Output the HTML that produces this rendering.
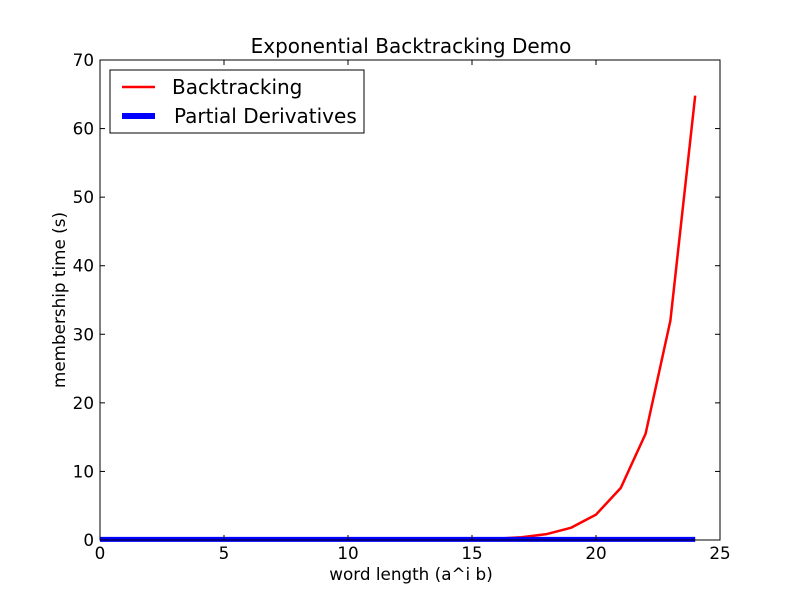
<!DOCTYPE html>
<html><head><meta charset="utf-8"><style>
body{margin:0;background:#fff;}
svg{font-family:"DejaVu Sans","Liberation Sans",sans-serif;}
</style></head><body>
<svg id="chart" width="800" height="600">
<rect x="0" y="0" width="800" height="600" fill="#fff"/>
<text x="411" y="53" font-size="20" text-anchor="middle">Exponential Backtracking Demo</text>
<g id="marks"></g>
<g id="axes"></g>
<rect x="100" y="60" width="620" height="480" fill="none" stroke="#000" stroke-width="1"/>
<text x="411" y="580" font-size="16.8" text-anchor="middle">word length (a^i b)</text>
<text x="65" y="300" font-size="16.8" text-anchor="middle" transform="rotate(-90 65 300)">membership time (s)</text>
<g>
<rect x="110" y="70" width="254" height="63" fill="#fff" stroke="#000" stroke-width="1"/>
<line x1="122" y1="87" x2="155" y2="87" stroke="#f00" stroke-width="2.5"/>
<text x="172" y="94" font-size="20">Backtracking</text>
<line x1="122" y1="116" x2="155" y2="116" stroke="#00f" stroke-width="6"/>
<text x="174" y="123" font-size="20">Partial Derivatives</text>
</g>
</svg>
<script>
const xs = [0,1,2,3,4,5,6,7,8,9,10,11,12,13,14,15,16,17,18,19,20,21,22,23,24];
const backtracking = [0,0,0,0,0,0,0,0,0,0.01,0.01,0.01,0.02,0.03,0.05,0.1,0.2,0.4,0.85,1.8,3.7,7.6,15.5,32,64.8];
const partial = [0.1,0.1,0.1,0.1,0.1,0.1,0.1,0.1,0.1,0.1,0.1,0.1,0.1,0.1,0.1,0.1,0.1,0.1,0.1,0.1,0.1,0.1,0.1,0.1,0.1];
const xTicks = [0,5,10,15,20,25];
const yTicks = [0,10,20,30,40,50,60,70];
const NS="http://www.w3.org/2000/svg";
const X=v=>100+v*620/25, Y=v=>540-v*480/70;
const marks=document.getElementById('marks'), axes=document.getElementById('axes');
function poly(ys,color,w,name){
  const p=document.createElementNS(NS,'polyline');
  p.setAttribute('points',xs.map((x,i)=>X(x)+','+Y(ys[i])).join(' '));
  p.setAttribute('fill','none');p.setAttribute('stroke',color);p.setAttribute('stroke-width',w);
  
  
  marks.appendChild(p);
}
poly(backtracking,'#f00',2.5,'backtracking-line');
poly(partial,'#00f',5,'partial-derivatives-line');
function ln(x1,y1,x2,y2){const l=document.createElementNS(NS,'line');l.setAttribute('x1',x1);l.setAttribute('y1',y1);l.setAttribute('x2',x2);l.setAttribute('y2',y2);l.setAttribute('stroke','#000');


axes.appendChild(l);}
function tx(x,y,s,a,name){const t=document.createElementNS(NS,'text');t.setAttribute('x',x);t.setAttribute('y',y);t.setAttribute('font-size','16.8');t.setAttribute('text-anchor',a);t.textContent=s;


axes.appendChild(t);}
xTicks.forEach(v=>{const x=X(v);ln(x,540,x,535);ln(x,60,x,65);tx(x,559,v,'middle','x-tick-label');});
yTicks.forEach(v=>{const y=Y(v);ln(100,y,105,y);ln(720,y,715,y);tx(94,y+6,v,'end','y-tick-label');});
</script>
</body></html>
